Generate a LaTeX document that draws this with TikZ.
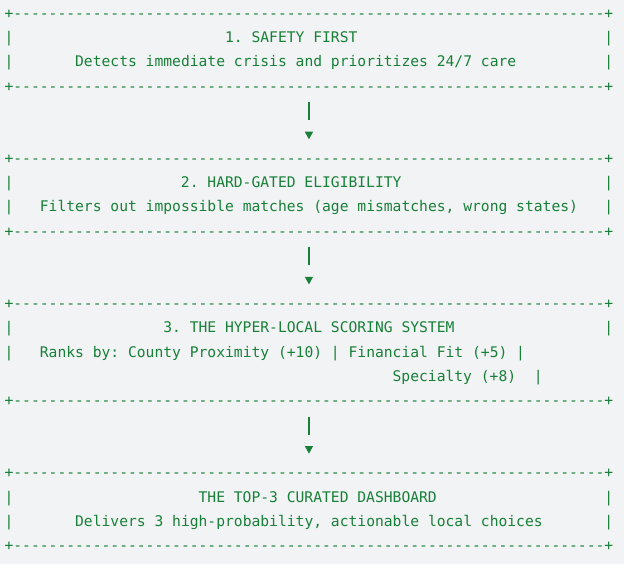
\documentclass[tikz,border=0pt]{standalone}
\usepackage{fontspec}
\setmonofont{DejaVu Sans Mono}
\usetikzlibrary{arrows.meta,fit}

\definecolor{termgreen}{HTML}{188038}
\definecolor{pagegray}{HTML}{F1F3F4}
\newcommand{\tendash}{----------}
\newcommand{\dashline}{+\tendash\tendash\tendash\tendash\tendash\tendash-------+}

\begin{document}
\begin{tikzpicture}[x=6.615pt,y=-18.135pt,
	ascii/.style={font=\ttfamily\fontsize{10.99}{13}\selectfont,text=termgreen,anchor=base west,inner sep=0pt,outer sep=0pt,text height=8pt,text depth=2pt},
	stage/.style={inner sep=0pt,outer sep=0pt},
	flow/.style={draw=termgreen,line width=0.9pt,dash pattern=on 13.5pt off 20pt,shorten <=6.45pt,shorten >=10.2pt,-{Triangle[length=5.7pt,width=6pt]}}]

\fill[pagegray] (-0.5204,0.2349) rectangle (70.228,23.560);
\useasboundingbox (-0.5204,0.2349) rectangle (70.228,23.560);

% 1. safety
\node[ascii] (top1) at (0,1) {\dashline};
\node[ascii] (t1)   at (25,2) {1. SAFETY FIRST};
\node[ascii] (d1)   at (8,3) {Detects immediate crisis and prioritizes 24/7 care};
\node[ascii] (bot1) at (0,4) {\dashline};

% 2. eligibility
\node[ascii] (top2) at (0,7) {\dashline};
\node[ascii] (t2)   at (20,8) {2. HARD-GATED ELIGIBILITY};
\node[ascii] (d2)   at (4,9) {Filters out impossible matches (age mismatches, wrong states)};
\node[ascii] (bot2) at (0,10) {\dashline};

% 3. scoring
\node[ascii] (top3) at (0,13) {\dashline};
\node[ascii] (t3)   at (18,14) {3. THE HYPER-LOCAL SCORING SYSTEM};
\node[ascii] (d3)   at (4,15) {Ranks by: County Proximity (+10) | Financial Fit (+5) |};
\node[ascii] (d3b)  at (44,16) {Specialty (+8)};
\node[ascii] (rb16) at (60,16) {|};
\node[ascii] (bot3) at (0,17) {\dashline};

% 4. dashboard
\node[ascii] (top4) at (0,20) {\dashline};
\node[ascii] (t4)   at (22,21) {THE TOP-3 CURATED DASHBOARD};
\node[ascii] (d4)   at (8,22) {Delivers 3 high-probability, actionable local choices};
\node[ascii] (bot4) at (0,23) {\dashline};

% side bars
\foreach \r in {2,3,8,9,14,15,21,22}
	\node[ascii] (lb\r) at (0,\r) {|};
\foreach \r in {2,3,8,9,14,21,22}
	\node[ascii] (rb\r) at (68,\r) {|};

\node[stage,fit=(top1)(bot1)] (stage1) {};
\node[stage,fit=(top2)(bot2)] (stage2) {};
\node[stage,fit=(top3)(bot3)] (stage3) {};
\node[stage,fit=(top4)(bot4)] (stage4) {};

\path[flow] (stage1) -- (stage2);
\path[flow] (stage2) -- (stage3);
\path[flow] (stage3) -- (stage4);

\end{tikzpicture}
\end{document}
